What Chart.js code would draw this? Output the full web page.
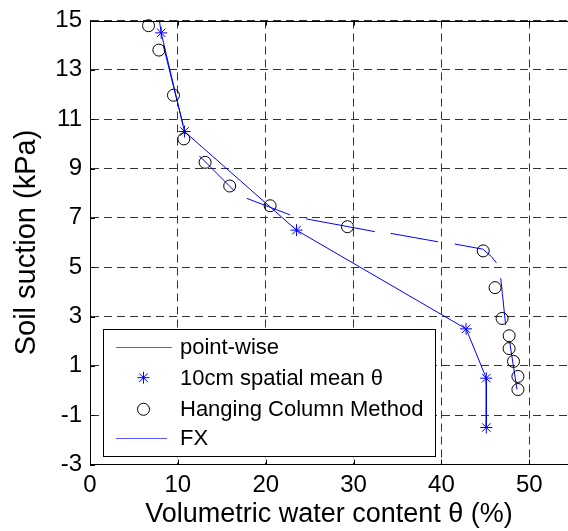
<!DOCTYPE html>
<html>
<head>
<meta charset="utf-8">
<script src="https://cdn.jsdelivr.net/npm/chart.js@4"></script>
<style>
  html, body { margin: 0; padding: 0; background: #fff; overflow: hidden; }
  canvas { display: block; }
</style>
</head>
<body>
<canvas id="graph" width="568" height="531"></canvas>
<script>
// axis ticks
var xTicks = [0, 10, 20, 30, 40, 50];
var yTicks = [-3, -1, 1, 3, 5, 7, 9, 11, 13, 15];

// point-wise profile
var pointX = [7.9, 8.1, 10.75, 23.5, 42.8, 45.1, 45.1];
var pointY = [15, 14.5, 10.5, 6.5, 2.5, 0.5, -1.5];

// 10cm spatial mean theta
var meanX = [8.1, 10.75, 23.5, 42.8, 45.1, 45.1];
var meanY = [14.5, 10.5, 6.5, 2.5, 0.5, -1.5];

// hanging column method
var hangX = [6.66, 7.84, 9.5, 10.68, 13.1, 15.9, 20.5, 29.3, 44.75, 46.1, 46.9, 47.7, 47.7, 48.2, 48.7, 48.7];
var hangY = [14.79, 13.8, 11.97, 10.2, 9.25, 8.29, 7.49, 6.64, 5.66, 4.17, 2.92, 2.22, 1.7, 1.18, 0.57, 0.04];

// FX curve, null breaks the line
var fxX = [8.33, 10.6, null, 12.45, 16.43, null, 17.84, 22.76, null, 24.58, 32.42, null, 34.2, 39.6, null, 41.5, 44.7, 45.68, 46.25, null, 46.74, 46.93, 47.3, null, 47.76, 48.59];
var fxY = [14.0, 10.76, null, 9.51, 8.09, null, 7.79, 7.12, null, 6.96, 6.44, null, 6.37, 6.03, null, 5.94, 5.73, 5.43, 5.18, null, 4.55, 3.94, 2.66, null, 1.98, 0.05];

var FONT = "'Liberation Sans', Arial, sans-serif";
var BLUE = '#0000ff';

function toPoints(xs, ys) {
    var out = [];
    for (var i = 0; i < xs.length; i++) {
        var x = xs[i] === null ? (i > 0 ? xs[i - 1] : 0) : xs[i];
        out.push({x: x, y: ys[i]});
    }
    return out;
}

// inner tick marks and top frame line
var frame = {
    id: 'frame',
    afterDraw: function(chart) {
        var ctx = chart.ctx, a = chart.chartArea;
        var xs = chart.scales.x, ys = chart.scales.y;
        ctx.save();
        ctx.strokeStyle = '#000';
        ctx.lineWidth = 1;
        ctx.beginPath();
        ctx.moveTo(a.left, Math.round(a.top) + 0.5);
        ctx.lineTo(a.right, Math.round(a.top) + 0.5);
        for (var i = 0; i < yTicks.length; i++) {
            var py = Math.round(ys.getPixelForValue(yTicks[i])) + 0.5;
            ctx.moveTo(a.left, py);
            ctx.lineTo(a.left + 5, py);
        }
        for (var j = 0; j < xTicks.length; j++) {
            var px = Math.round(xs.getPixelForValue(xTicks[j])) + 0.5;
            ctx.moveTo(px, a.bottom);
            ctx.lineTo(px, a.bottom - 5);
            ctx.moveTo(px, a.top);
            ctx.lineTo(px, a.top + 5);
        }
        ctx.stroke();
        ctx.restore();
    }
};

function drawStar(ctx, x, y, r) {
    var d = r * Math.SQRT1_2;
    ctx.beginPath();
    ctx.moveTo(x - r, y); ctx.lineTo(x + r, y);
    ctx.moveTo(x, y - r); ctx.lineTo(x, y + r);
    ctx.moveTo(x - d, y - d); ctx.lineTo(x + d, y + d);
    ctx.moveTo(x - d, y + d); ctx.lineTo(x + d, y - d);
    ctx.stroke();
}

// boxed legend in the lower left of the plot
var boxLegend = {
    id: 'boxLegend',
    afterDraw: function(chart) {
        var ctx = chart.ctx;
        var left = 103.5, top = 329.5, right = 435.5, bottom = 456.5;
        var rows = [346.7, 377.7, 409.3, 438.3];
        ctx.save();
        ctx.fillStyle = '#fff';
        ctx.fillRect(left, top, right - left, bottom - top);
        ctx.strokeStyle = '#000';
        ctx.lineWidth = 1;
        ctx.strokeRect(left, top, right - left, bottom - top);
        ctx.font = '22px ' + FONT;
        ctx.textBaseline = 'middle';
        chart.data.datasets.forEach(function(ds, i) {
            var y = rows[i];
            ctx.strokeStyle = ds.legendColor || ds.borderColor;
            ctx.lineWidth = 1;
            if (ds.showLine !== false) {
                ctx.beginPath();
                ctx.moveTo(116, Math.round(y) + 0.5);
                ctx.lineTo(ds.legendEnd || 172, Math.round(y) + 0.5);
                ctx.stroke();
            } else if (ds.pointStyle === 'star') {
                drawStar(ctx, 143.5, y, 6);
            } else {
                ctx.beginPath();
                ctx.arc(143.5, y, 6, 0, Math.PI * 2);
                ctx.stroke();
            }
            ctx.fillStyle = '#000';
            ctx.fillText(ds.label, 180, y + 1);
        });
        ctx.restore();
    }
};

var ctx = document.getElementById('graph').getContext('2d');
var chart = new Chart(ctx, {
    type: 'line',
    data: {
        datasets: [
            {
                label: 'point-wise',
                data: toPoints(pointX, pointY),
                borderColor: BLUE,
                legendColor: '#5a5aff',
                borderWidth: 1,
                pointRadius: 0,
                tension: 0,
                order: 3
            },
            {
                label: '10cm spatial mean \u03b8',
                data: toPoints(meanX, meanY),
                showLine: false,
                pointStyle: 'star',
                pointRadius: 6,
                borderColor: BLUE,
                pointBorderWidth: 1,
                clip: false,
                order: 2
            },
            {
                label: 'Hanging Column Method',
                data: toPoints(hangX, hangY),
                showLine: false,
                pointStyle: 'circle',
                pointRadius: 6,
                borderColor: '#000',
                backgroundColor: 'rgba(0,0,0,0)',
                pointBorderWidth: 1,
                clip: false,
                order: 1
            },
            {
                label: 'FX',
                data: toPoints(fxX, fxY),
                borderColor: BLUE,
                legendColor: '#5a5aff',
                legendEnd: 167,
                borderWidth: 1,
                pointRadius: 0,
                tension: 0,
                spanGaps: false,
                order: 4
            }
        ]
    },
    options: {
        responsive: false,
        animation: false,
        layout: { autoPadding: false, padding: { left: 10, top: 20.5, right: 0, bottom: 0 } },
        plugins: { legend: { display: false }, tooltip: { enabled: false } },
        scales: {
            x: {
                type: 'linear',
                min: 0,
                max: 54.4,
                afterBuildTicks: function(s) { s.ticks = xTicks.map(function(v) { return {value: v}; }); },
                afterFit: function(s) { s.height = 66.5; s.paddingLeft = 0; s.paddingRight = 0; },
                grid: { color: '#333', lineWidth: 1, drawTicks: false },
                border: { display: true, color: '#000', width: 1, dash: [8, 5] },
                ticks: { color: '#000', font: { family: FONT, size: 24 }, padding: 6, maxRotation: 0, autoSkip: false },
                title: { display: true, text: 'Volumetric water content \u03b8 (%)', color: '#000', font: { family: FONT, size: 27 }, padding: 0 }
            },
            y: {
                type: 'linear',
                min: -3,
                max: 15,
                afterBuildTicks: function(s) { s.ticks = yTicks.map(function(v) { return {value: v}; }); },
                afterFit: function(s) { s.width = 80; s.paddingTop = 0; s.paddingBottom = 0; },
                grid: { color: '#333', lineWidth: 1, drawTicks: false },
                border: { display: true, color: '#000', width: 1, dash: [8, 5] },
                ticks: { color: '#000', font: { family: FONT, size: 24 }, padding: 8, autoSkip: false },
                title: { display: true, text: 'Soil suction (kPa)', color: '#000', font: { family: FONT, size: 29 }, padding: 0 }
            }
        }
    },
    plugins: [frame, boxLegend]
});
</script>
</body>
</html>
